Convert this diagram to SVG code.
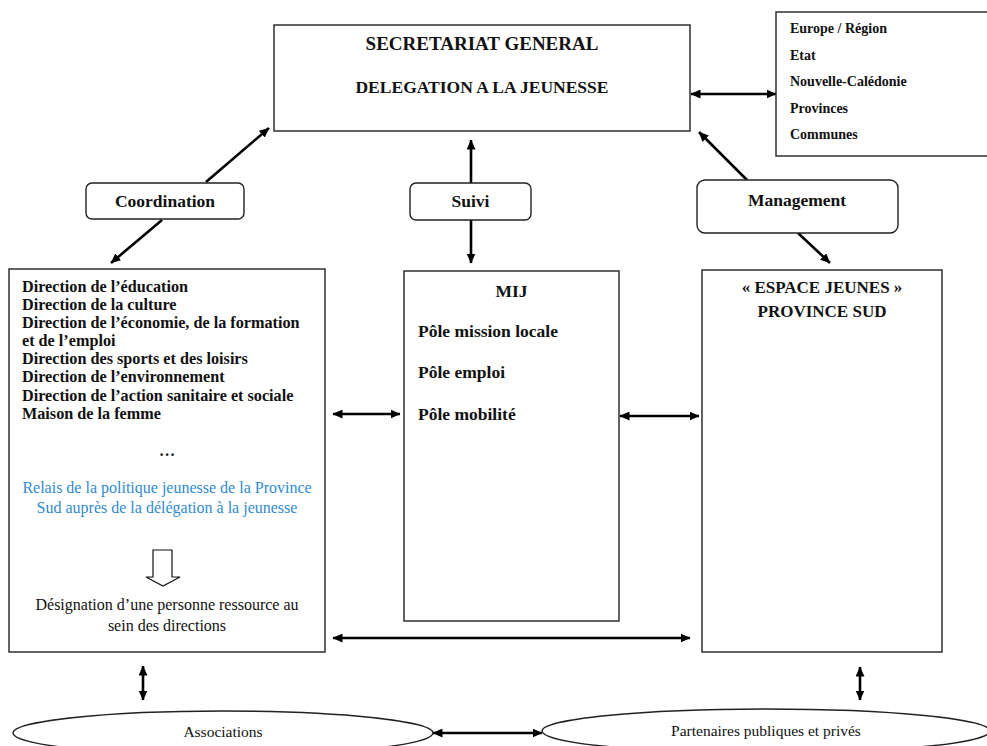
<svg xmlns="http://www.w3.org/2000/svg" width="987" height="746" viewBox="0 0 987 746">
<defs>
<style>
.box{fill:#fff;stroke:#222;stroke-width:1.4}
.b{font-family:"Liberation Serif","Times New Roman",serif;font-weight:bold;fill:#111}
.r{font-family:"Liberation Serif","Times New Roman",serif;fill:#111}
.blue{font-family:"Liberation Serif","Times New Roman",serif;fill:#2f8ad0;font-size:16px}
.c{text-anchor:middle}
.conn line{stroke:#000;stroke-width:2.6;marker-start:url(#ah);marker-end:url(#ah)}
.one{marker-start:none !important}
</style>
<marker id="ah" viewBox="0 0 10 9" refX="9.5" refY="4.5" markerWidth="10" markerHeight="9" markerUnits="userSpaceOnUse" orient="auto-start-reverse">
<path d="M0,0 L10,4.5 L0,9 z" fill="#000"/>
</marker>
</defs>
<rect width="987" height="746" fill="#fff"/>

<g id="connectors" class="conn">
<line x1="691" y1="94" x2="776" y2="94"/>
<line x1="206" y1="182" x2="269" y2="128" class="one"/>
<line x1="162" y1="220" x2="111" y2="263" class="one"/>
<line x1="471" y1="183" x2="471" y2="140" class="one"/>
<line x1="471" y1="220" x2="471" y2="263" class="one"/>
<line x1="747" y1="180" x2="699" y2="132" class="one"/>
<line x1="798" y1="233" x2="830" y2="263" class="one"/>
<line x1="333" y1="414" x2="400" y2="414"/>
<line x1="620" y1="416" x2="699" y2="416"/>
<line x1="333" y1="638" x2="690" y2="638"/>
<line x1="143" y1="666" x2="143" y2="700"/>
<line x1="860" y1="667" x2="860" y2="700"/>
<line x1="433" y1="733" x2="542" y2="733"/>
</g>

<g id="secretariat">
<rect class="box" x="274" y="25" width="416" height="106"/>
<text class="b c" x="482" y="50" font-size="19">SECRETARIAT GENERAL</text>
<text class="b c" x="482" y="93" font-size="17.5">DELEGATION A LA JEUNESSE</text>
</g>

<g id="partenaires-institutionnels">
<rect class="box" x="776" y="12" width="215" height="144"/>
<text class="b" x="790" y="33" font-size="14">Europe / Région</text>
<text class="b" x="790" y="60" font-size="14">Etat</text>
<text class="b" x="790" y="86" font-size="14">Nouvelle-Calédonie</text>
<text class="b" x="790" y="113" font-size="14">Provinces</text>
<text class="b" x="790" y="139" font-size="14">Communes</text>
</g>

<g id="coordination">
<rect class="box" x="86" y="183" width="158" height="36" rx="6"/>
<text class="b c" x="165" y="207" font-size="17.5">Coordination</text>
</g>

<g id="suivi">
<rect class="box" x="410" y="183" width="121" height="37" rx="6"/>
<text class="b c" x="470.5" y="207" font-size="17.5">Suivi</text>
</g>

<g id="management">
<rect class="box" x="697" y="180" width="201" height="53" rx="8"/>
<text class="b c" x="797" y="206" font-size="17.5">Management</text>
</g>

<g id="directions">
<rect class="box" x="9" y="269" width="316" height="383"/>
<text class="b" x="22" y="292" font-size="16.2">Direction de l’éducation</text>
<text class="b" x="22" y="310" font-size="16.2">Direction de la culture</text>
<text class="b" x="22" y="328" font-size="16.2">Direction de l’économie, de la formation</text>
<text class="b" x="22" y="346" font-size="16.2">et de l’emploi</text>
<text class="b" x="22" y="364" font-size="16.2">Direction des sports et des loisirs</text>
<text class="b" x="22" y="382" font-size="16.2">Direction de l’environnement</text>
<text class="b" x="22" y="401" font-size="16.2">Direction de l’action sanitaire et sociale</text>
<text class="b" x="22" y="419" font-size="16.2">Maison de la femme</text>
<text class="b c" x="167" y="456" font-size="16.2">…</text>
<text class="blue c" x="167" y="493">Relais de la politique jeunesse de la Province</text>
<text class="blue c" x="167" y="513">Sud auprès de la délégation à la jeunesse</text>
<polygon points="153,550 172,550 172,577 180,577 163,586 146,577 153,577" fill="#fff" stroke="#111" stroke-width="1.2"/>
<text class="r c" x="167" y="610" font-size="16">Désignation d’une personne ressource au</text>
<text class="r c" x="167" y="631" font-size="16">sein des directions</text>
</g>

<g id="mij">
<rect class="box" x="404" y="271" width="215" height="350"/>
<text class="b c" x="511.5" y="297" font-size="17.5">MIJ</text>
<text class="b" x="418" y="337" font-size="17.5">Pôle mission locale</text>
<text class="b" x="418" y="378" font-size="17.5">Pôle emploi</text>
<text class="b" x="418" y="420" font-size="17.5">Pôle mobilité</text>
</g>

<g id="espace-jeunes">
<rect class="box" x="702" y="270" width="240" height="382"/>
<text class="b c" x="822" y="293" font-size="17">« ESPACE JEUNES »</text>
<text class="b c" x="822" y="317" font-size="17">PROVINCE SUD</text>
</g>

<g id="associations">
<ellipse class="box" cx="223" cy="733" rx="210" ry="22"/>
<text class="r c" x="223" y="737" font-size="15.5">Associations</text>
</g>

<g id="partenaires">
<ellipse class="box" cx="766" cy="731" rx="224" ry="22"/>
<text class="r c" x="766" y="736" font-size="15.5">Partenaires publiques et privés</text>
</g>
</svg>
